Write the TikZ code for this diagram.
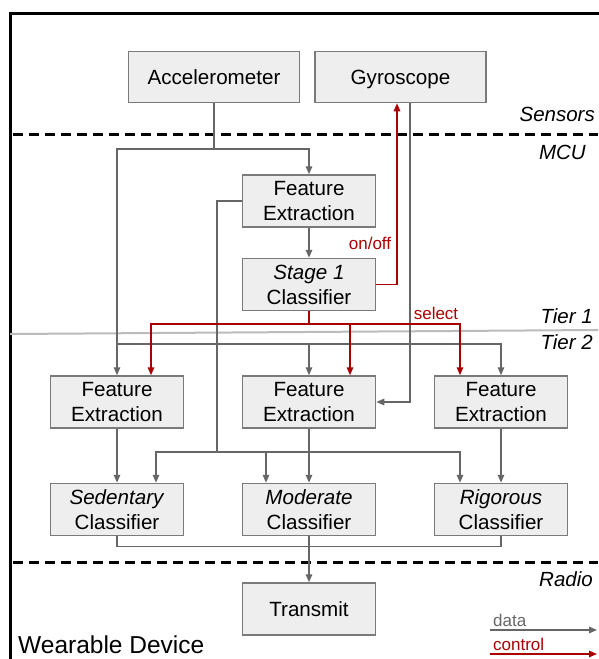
\documentclass[tikz,border=0pt]{standalone}
\usepackage{fontspec}
\setmainfont{Liberation Sans}
\usetikzlibrary{arrows.meta}
\definecolor{datagray}{HTML}{666666}
\definecolor{boxgray}{HTML}{7A7A7A}
\definecolor{boxfill}{HTML}{EEEEEE}
\definecolor{ctrlred}{HTML}{AA0000}
\definecolor{tiergray}{HTML}{BBBBBB}
\tikzset{
    block/.style = {rectangle, minimum width=133pt, minimum height=52pt, inner sep=0pt, text centered, align=center, draw=boxgray, fill=boxfill, line width=1.5pt, font=\fontsize{20.6}{25}\selectfont},
    sensor/.style = {block, minimum width=171pt, minimum height=51pt, text height=15pt, text depth=0pt},
    layer/.style = {anchor=east, inner sep=0pt, font=\fontsize{20.5}{24}\selectfont\itshape},
    tag/.style = {inner sep=0pt, font=\fontsize{17}{20}\selectfont},
    wire/.style = {line width=1.5pt, draw=datagray},
    data/.style = {wire, -{Triangle[length=8pt,width=6.5pt]}},
    ctrl/.style = {line width=1.5pt, draw=ctrlred, -{Triangle[length=8pt,width=6.5pt]}},
    divider/.style = {line width=3pt, dash pattern=on 10pt off 6pt}
}

\begin{document}
\begin{tikzpicture}[x=1pt, y=-1pt, node distance=192pt]
\useasboundingbox (0,0) rectangle (598,659);
\draw [line width=3pt] (10,670) -- (10,13) -- (610,13);

\node (acc) [sensor] at (214,77) {Accelerometer};
\node (gyr) [sensor] at (400.5,77) {Gyroscope};
\node (fe1) [block] at (309,201) {Feature\\Extraction};
\node (st1) [block] at (309,284.5) {\textit{Stage 1}\\Classifier};
\node (fem) [block] at (309,402) {Feature\\Extraction};
\node (fel) [block, left of=fem] {Feature\\Extraction};
\node (fer) [block, right of=fem] {Feature\\Extraction};
\node (clm) [block] at (309,509.5) {\textit{Moderate}\\Classifier};
\node (cll) [block, left of=clm] {\textit{Sedentary}\\Classifier};
\node (clr) [block, right of=clm] {\textit{Rigorous}\\Classifier};
\node (tx) [block] at (309,609) {Transmit};

\node (sens) [layer] at (595,114) {Sensors};
\node (mcu) [layer] at (586,152) {MCU};
\node (tier1) [layer] at (593,316) {Tier 1};
\node (tier2) [layer] at (593,342) {Tier 2};
\node (radio) [layer] at (593,579) {Radio};
\node (onoff) [tag, text=ctrlred] at (370,243) {on/off};
\node (select) [tag, text=ctrlred] at (436,313) {select};
\node (device) [anchor=west, inner sep=0pt, font=\fontsize{24.5}{28}\selectfont] at (18,645) {Wearable Device};
\node (legdata) [tag, anchor=west, text=datagray] at (493,620) {data};
\node (legctrl) [tag, anchor=west, text=ctrlred] at (493,644) {control};

\draw [divider] (13,134) -- (598,134);
\draw [divider] (13,562) -- (598,562);
\draw [line width=2pt, draw=tiergray] (10,334) -- (598,330);

\coordinate (accsplit) at (214,149);
\coordinate (bus2) at (117,344);
\coordinate (bus3) at (217,452);
\coordinate (selbus) at (309,324);

\draw [wire] (acc.south) -- (accsplit);
\draw [data] (accsplit) -| (fe1.north);
\draw [data] (accsplit) -| (fel.north);
\draw [data] (bus2) -| (fer.north);
\draw [data] (bus2 -| fem.north) -- (fem.north);
\draw [data] (fe1) -- (st1);
\draw [wire] (fe1.west) -| (bus3);
\draw [data] (bus3) -| ([xshift=39pt]cll.north);
\draw [data] (bus3) -| ([xshift=-41pt]clr.north);
\draw [data] ([xshift=-43pt]clm.north |- bus3) -- ([xshift=-43pt]clm.north);
\draw [data] ([xshift=9.5pt]gyr.south) |- (fem.east);
\draw [data] (fel) -- (cll);
\draw [data] (fem) -- (clm);
\draw [data] (fer) -- (clr);
\draw [wire] (cll.south) -- ++(0,10) -| (clr.south);
\draw [data] (clm) -- (tx);

\draw [ctrl] (st1.east) -| ([xshift=-3.5pt]gyr.south);
\draw [ctrl] (st1.south) -- (selbus) -| ([xshift=34pt]fel.north);
\draw [ctrl] (selbus) -| ([xshift=-41pt]fer.north);
\draw [ctrl] ([xshift=41pt]fem.north |- selbus) -- ([xshift=41pt]fem.north);

\coordinate (legd0) at (490,630);
\coordinate (legd1) at (597,630);
\coordinate (legc0) at (490,654);
\coordinate (legc1) at (597,654);
\draw [data] (legd0) -- (legd1);
\draw [ctrl] (legc0) -- (legc1);
\end{tikzpicture}
\end{document}
